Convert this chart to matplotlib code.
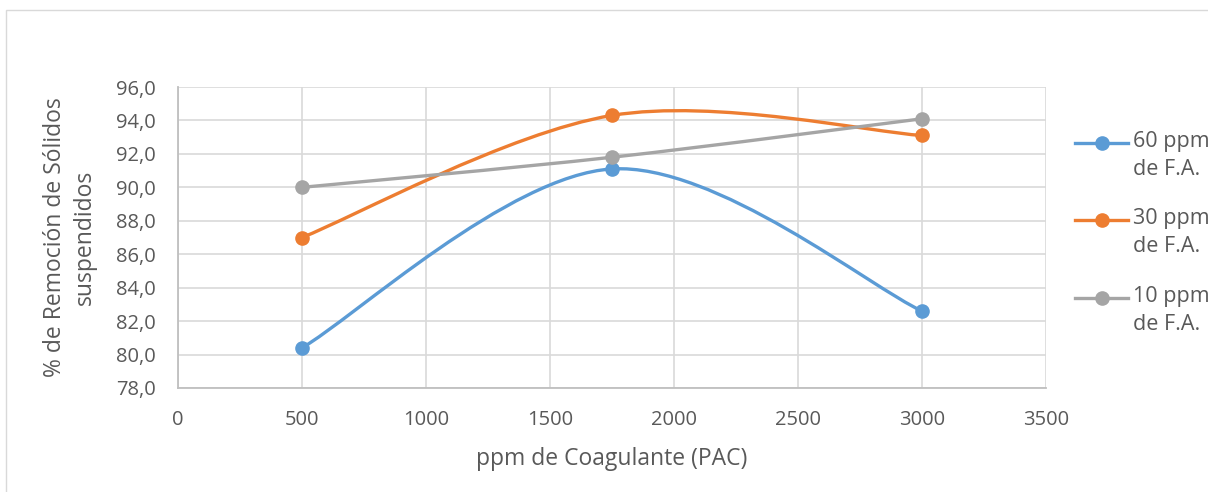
import matplotlib
matplotlib.use("Agg")
import matplotlib.pyplot as plt
from matplotlib.path import Path
from matplotlib.patches import PathPatch, Rectangle
from matplotlib.lines import Line2D
import numpy as np

# Data
coagulant_ppm = [500, 1750, 3000]
series_labels = ["60 ppm\nde F.A.", "30 ppm\nde F.A.", "10 ppm\nde F.A."]
removal_60 = [80.4, 91.1, 82.6]
removal_30 = [87.0, 94.3, 93.1]
removal_10 = [90.0, 91.8, 94.1]
x_ticks = [0, 500, 1000, 1500, 2000, 2500, 3000, 3500]
y_ticks = [78, 80, 82, 84, 86, 88, 90, 92, 94, 96]

colors = ["#5B9BD5", "#ED7D31", "#A5A5A5"]
text_color = "#595959"
font = ["Open Sans", "DejaVu Sans"]
plt.rcParams["font.family"] = font

W, H = 1208, 492
fig = plt.figure(figsize=(W / 100, H / 100), dpi=100)
fig.patch.set_facecolor("white")

# Chart area border
fig.add_artist(Rectangle((5.5 / W, -0.05), 1.2, 1 - 9.5 / H + 0.05,
                         transform=fig.transFigure, fill=False,
                         edgecolor="#d9d9d9", linewidth=1.0))

ax = fig.add_axes([178 / W, 1 - 388 / H, (1046 - 178) / W, (388 - 87) / H])
ax.set_xlim(0, 3500)
ax.set_ylim(78, 96)
ax.set_xticks(x_ticks)
ax.set_yticks(y_ticks)
ax.set_yticklabels([f"{v:.1f}".replace(".", ",") for v in y_ticks])
ax.set_xticklabels([str(v) for v in x_ticks])
ax.tick_params(length=0, labelsize=14.5, colors=text_color)
ax.tick_params(axis="x", pad=16)
ax.tick_params(axis="y", pad=16)
ax.grid(True, color="#d9d9d9", linewidth=1.2)
ax.set_axisbelow(True)
for s in ["top", "right"]:
    ax.spines[s].set_visible(False)
for s in ["left", "bottom"]:
    ax.spines[s].set_color("#bfbfbf")
    ax.spines[s].set_linewidth(1.3)


def smooth_path(xs, ys):
    """Catmull-Rom style cubic Bezier segments through the points."""
    pts = np.column_stack([xs, ys]).astype(float)
    n = len(pts)
    verts = [pts[0]]
    codes = [Path.MOVETO]
    for i in range(n - 1):
        p0 = pts[i - 1] if i > 0 else pts[i]
        p1 = pts[i]
        p2 = pts[i + 1]
        p3 = pts[i + 2] if i + 2 < n else pts[i + 1]
        c1 = p1 + (p2 - p0) / 6.0
        c2 = p2 - (p3 - p1) / 6.0
        verts += [c1, c2, p2]
        codes += [Path.CURVE4] * 3
    return Path(verts, codes)


for ys, c in zip([removal_60, removal_30, removal_10], colors):
    ax.add_patch(PathPatch(smooth_path(coagulant_ppm, ys), facecolor="none",
                           edgecolor=c, linewidth=2.4, capstyle="round", zorder=3))
    ax.plot(coagulant_ppm, ys, linestyle="none", marker="o", markersize=9.5,
            color=c, zorder=4)

ax.set_xlabel("ppm de Coagulante (PAC)", fontsize=16.5, color=text_color, labelpad=12)
ax.set_ylabel("% de Remoción de Sólidos\nsuspendidos", fontsize=16.5,
              color=text_color, labelpad=14, linespacing=1.3)

# Legend
legend_y = [143, 220, 298]
for lbl, c, yy in zip(series_labels, colors, legend_y):
    yf = 1 - yy / H
    fig.add_artist(Line2D([1075 / W, 1128 / W], [yf, yf], color=c, linewidth=2.4,
                          transform=fig.transFigure))
    fig.add_artist(Line2D([1102 / W], [yf], marker="o", markersize=9.5, color=c,
                          transform=fig.transFigure))
    fig.text(1133 / W, 1 - (yy - 12) / H, lbl, fontsize=15.5, color=text_color,
             ha="left", va="top", linespacing=1.45,
             transform=fig.transFigure)

fig.savefig("out.png", dpi=100, facecolor="white")
